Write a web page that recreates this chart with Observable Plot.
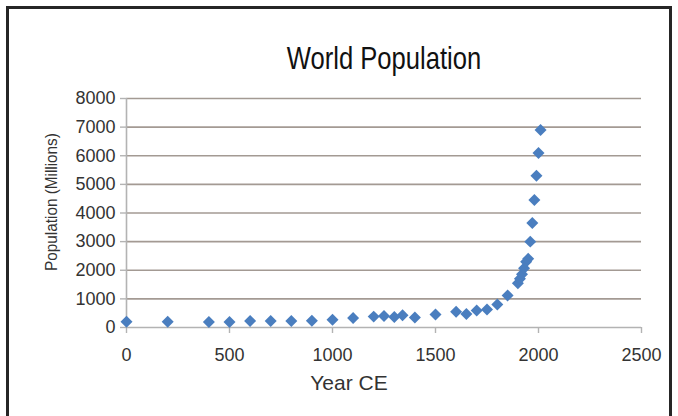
<!DOCTYPE html>
<html>
<head>
<meta charset="utf-8">
<script src="https://cdn.jsdelivr.net/npm/d3@7"></script>
<script src="https://cdn.jsdelivr.net/npm/@observablehq/plot@0.6"></script>
<style>
  html, body { margin: 0; padding: 0; background: #fff; width: 678px; height: 416px; overflow: hidden; }
  #wrap { position: relative; width: 678px; height: 416px; }
  #frame { position: absolute; left: 6px; top: 6px; width: 666px; height: 440px; border: 3px solid #262626; box-sizing: border-box; }
  #title { position: absolute; left: 0; width: 768px; top: 38px; text-align: center; font-family: "Liberation Sans", sans-serif; font-size: 32px; color: #111; line-height: 40px; transform: scaleX(0.8); }
  #xlabel { position: absolute; left: 249px; width: 200px; top: 370px; text-align: center; font-family: "Liberation Sans", sans-serif; font-size: 21px; color: #333; line-height: 26px; }
  #ylabel { position: absolute; left: 52px; top: 202px; width: 200px; margin-left: -100px; margin-top: -10px; text-align: center; transform: rotate(-90deg) scaleX(0.9); font-family: "Liberation Sans", sans-serif; font-size: 17px; color: #333; line-height: 20px; }
  #chart { position: absolute; left: 0; top: 0; }
</style>
</head>
<body>
<div id="wrap">
  <div id="frame"></div>
  <div id="chart"></div>
  <div id="title">World Population</div>
  <div id="ylabel">Population (Millions)</div>
  <div id="xlabel">Year CE</div>
</div>
<script>
const years = [0, 200, 400, 500, 600, 700, 800, 900, 1000, 1100, 1200, 1250, 1300, 1340, 1400, 1500, 1600, 1650, 1700, 1750, 1800, 1850, 1900, 1910, 1920, 1930, 1940, 1950, 1960, 1970, 1980, 1990, 2000, 2010];
const population = [200, 200, 195, 195, 230, 230, 230, 235, 270, 330, 380, 400, 370, 430, 350, 450, 550, 470, 590, 630, 800, 1120, 1550, 1700, 1860, 2070, 2300, 2400, 3000, 3650, 4450, 5300, 6100, 6900];
const xTicks = [0, 500, 1000, 1500, 2000, 2500];
const yTicks = [0, 1000, 2000, 3000, 4000, 5000, 6000, 7000, 8000];

const data = years.map((y, i) => ({year: y, pop: population[i]}));

const chart = Plot.plot({
  width: 678,
  height: 416,
  marginLeft: 126,
  marginRight: 37,
  marginTop: 98,
  marginBottom: 89,
  style: {fontFamily: "Liberation Sans, sans-serif", fontSize: "18px", color: "#333", background: "transparent", overflow: "visible"},
  x: {domain: [0, 2500]},
  y: {domain: [0, 8000]},
  marks: [
    Plot.gridY(yTicks.filter(d => d > 0), {stroke: "#a39a93", strokeOpacity: 1, strokeWidth: 1.6}),
    Plot.ruleY([0], {stroke: "#b3b3b3", strokeWidth: 1.6}),
    Plot.ruleX([0], {stroke: "#b3b3b3", strokeWidth: 1.6}),
    Plot.axisY({ticks: yTicks, tickFormat: d3.format("d"), tickSize: 6, tickPadding: 5, stroke: "#b3b3b3", strokeWidth: 1.4, label: null, fill: "#333", fontSize: 18}),
    Plot.axisX({ticks: xTicks, tickFormat: d3.format("d"), tickSize: 6, tickPadding: 15, stroke: "#b3b3b3", strokeWidth: 1.4, label: null, fill: "#333", fontSize: 18}),
    Plot.dot(data, {x: "year", y: "pop", symbol: "diamond2", r: 5.4, fill: "#4a7ebf", stroke: "none"})
  ]
});
document.getElementById("chart").appendChild(chart);
</script>
</body>
</html>
